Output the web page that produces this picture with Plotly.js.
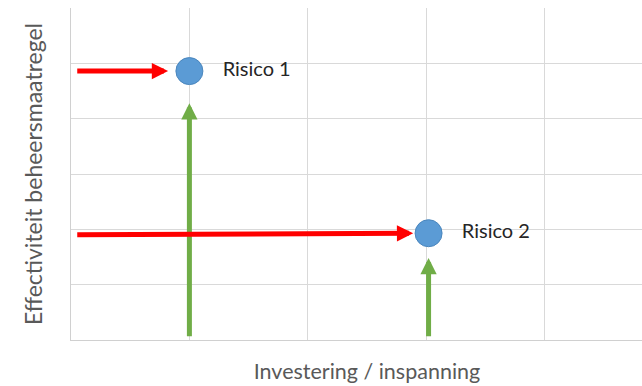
<!DOCTYPE html>
<html>
<head>
<meta charset="utf-8">
<script src="https://cdn.plot.ly/plotly-3.0.1.min.js"></script>
<style>html,body{margin:0;padding:0;background:#fff;overflow:hidden}#chart{width:663px;height:386px}</style>
</head>
<body>
<div id="chart"></div>
<script>
// Data
const risks = ['Risico 1', 'Risico 2'];
const investering = [1.0, 3.02];
const effectiviteit = [4.86, 1.93];

// Red arrows (horizontal): tail x, head x, tail y, head y
const redTailX = [0.04, 0.04];
const redHeadX = [0.82, 2.89];
const redTailY = [4.86, 1.90];
const redHeadY = [4.86, 1.93];

// Green arrows (vertical): x, tail y, head y
const greenX = [1.0, 3.02];
const greenTailY = [0.04, 0.04];
const greenHeadY = [4.28, 1.48];

const xTitle = 'Investering / inspanning';
const yTitle = '\u00a0\u00a0\u00a0\u00a0Effectiviteit beheersmaatregel';

const annotations = [];
for (let i = 0; i < risks.length; i++) {
  annotations.push({
    x: redHeadX[i], y: redHeadY[i], ax: redTailX[i], ay: redTailY[i],
    xref: 'x', yref: 'y', axref: 'x', ayref: 'y', text: '',
    showarrow: true, arrowhead: 2, arrowsize: 0.65, arrowwidth: 5,
    arrowcolor: '#ff0000', standoff: 0, startstandoff: 0
  });
  annotations.push({
    x: greenX[i], y: greenHeadY[i], ax: greenX[i], ay: greenTailY[i],
    xref: 'x', yref: 'y', axref: 'x', ayref: 'y', text: '',
    showarrow: true, arrowhead: 2, arrowsize: 0.65, arrowwidth: 5,
    arrowcolor: '#70ad47', standoff: 0, startstandoff: 0
  });
}

const trace = {
  x: investering, y: effectiviteit, text: risks,
  type: 'scatter', mode: 'markers+text',
  textposition: 'middle right',
  texttemplate: '\u00a0\u00a0\u00a0%{text}',
  textfont: {family: 'Lato, sans-serif', size: 20, color: '#262626'},
  marker: {size: 27, color: '#5b9bd5', line: {color: '#4a86bd', width: 1}},
  cliponaxis: false, hoverinfo: 'none'
};

const layout = {
  width: 663, height: 386,
  margin: {l: 71, r: 0, t: 8, b: 46},
  paper_bgcolor: '#ffffff', plot_bgcolor: '#ffffff',
  showlegend: false,
  font: {family: 'Lato, sans-serif', color: '#595959'},
  xaxis: {
    range: [0, 5], dtick: 1, tick0: 0, showticklabels: false, ticks: '',
    showgrid: true, gridcolor: '#d9d9d9', gridwidth: 1, zeroline: false,
    showline: true, linecolor: '#d0d0d0', linewidth: 1,
    title: {text: xTitle, font: {size: 21.5, color: '#595959'}, standoff: 23}
  },
  yaxis: {
    range: [0, 6], dtick: 1, tick0: 0, showticklabels: false, ticks: '',
    showgrid: true, gridcolor: '#d9d9d9', gridwidth: 1, zeroline: false,
    showline: true, linecolor: '#d0d0d0', linewidth: 1,
    title: {text: yTitle, font: {size: 23, color: '#595959'}, standoff: 20}
  },
  annotations: annotations
};

Plotly.newPlot('chart', [trace], layout, {displayModeBar: false, staticPlot: true});
</script>
</body>
</html>
